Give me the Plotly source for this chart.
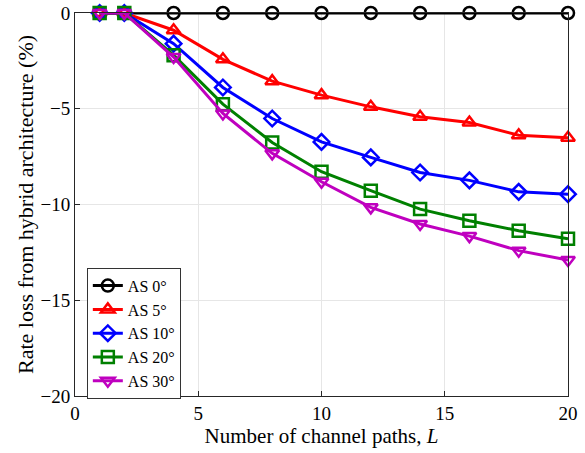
import plotly.graph_objects as go

paths = [1, 2, 4, 6, 8, 10, 12, 14, 16, 18, 20]
as0 = [0, 0, 0, 0, 0, 0, 0, 0, 0, 0, 0]
as5 = [0, 0, -0.9, -2.42, -3.56, -4.29, -4.9, -5.42, -5.72, -6.38, -6.52]
as10 = [0, 0, -1.6, -3.89, -5.51, -6.73, -7.54, -8.33, -8.74, -9.34, -9.46]
as20 = [0, 0, -2.2, -4.76, -6.76, -8.29, -9.28, -10.24, -10.85, -11.37, -11.79]
as30 = [0, 0, -2.3, -5.25, -7.33, -8.81, -10.15, -11.02, -11.65, -12.41, -12.9]

series = [
    ("AS 0°", as0, "black", "circle-open"),
    ("AS 5°", as5, "#ff0000", "triangle-up-open"),
    ("AS 10°", as10, "#0000ff", "diamond-open"),
    ("AS 20°", as20, "#008000", "square-open"),
    ("AS 30°", as30, "#bf00bf", "triangle-down-open"),
]

font_family = "Liberation Serif, DejaVu Serif, serif"

fig = go.Figure()
for name, vals, color, sym in series:
    fig.add_trace(go.Scatter(
        x=paths, y=vals, name=name, mode="lines+markers",
        line=dict(color=color, width=3),
        marker=dict(symbol=sym, size=12, color=color, line=dict(width=2.5, color=color)),
        cliponaxis=False,
    ))

fig.update_layout(
    width=585, height=453,
    margin=dict(l=75, r=17, t=13, b=57),
    paper_bgcolor="white", plot_bgcolor="white",
    font=dict(family=font_family, size=19, color="black"),
    showlegend=True,
    legend=dict(
        x=0.024, y=0.335, xanchor="left", yanchor="top",
        bgcolor="white", bordercolor="#333333", borderwidth=1,
        font=dict(family=font_family, size=16),
        tracegroupgap=0, itemwidth=30,
    ),
    xaxis=dict(
        range=[0, 20], tickvals=[0, 5, 10, 15, 20], automargin=False,
        showgrid=True, gridcolor="#e6e6e6", gridwidth=1,
        showline=True, linecolor="#262626", linewidth=1, mirror=True,
        ticks="inside", ticklen=5, tickcolor="#262626",
        zeroline=False,
        title=dict(text="Number of channel paths, <i>L</i>", standoff=2,
                   font=dict(family=font_family, size=21)),
        tickfont=dict(family=font_family, size=19),
    ),
    yaxis=dict(
        range=[-20, 0], tickvals=[-20, -15, -10, -5, 0], automargin=False,
        showgrid=True, gridcolor="#e6e6e6", gridwidth=1,
        showline=True, linecolor="#262626", linewidth=1, mirror=True,
        ticks="inside", ticklen=5, tickcolor="#262626",
        zeroline=False,
        title=dict(text="Rate loss from hybrid architecture (%)", standoff=0,
                   font=dict(family=font_family, size=22)),
        tickfont=dict(family=font_family, size=19),
    ),
)

fig.write_html(
    "out.html",
    config={"displayModeBar": False},
    post_script=(
        "document.body.style.margin='0';document.body.style.padding='0';"
        "document.body.style.overflow='hidden';"
        "var gd=document.getElementById('{plot_id}');"
        "gd.style.position='fixed';gd.style.top='0px';gd.style.left='0px';"
    ),
)
